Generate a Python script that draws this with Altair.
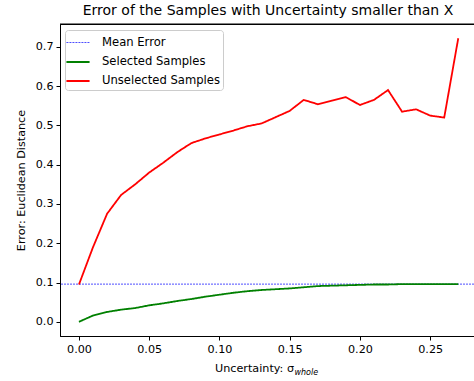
import altair as alt
import pandas as pd

uncertainty = [0.00, 0.01, 0.02, 0.03, 0.04, 0.05, 0.06, 0.07, 0.08, 0.09,
               0.10, 0.11, 0.12, 0.13, 0.14, 0.15, 0.16, 0.17, 0.18, 0.19,
               0.20, 0.21, 0.22, 0.23, 0.24, 0.25, 0.26, 0.27]
selected = [0.000, 0.016, 0.025, 0.031, 0.035, 0.042, 0.047, 0.053, 0.058, 0.064,
            0.069, 0.074, 0.078, 0.081, 0.083, 0.085, 0.088, 0.091, 0.092, 0.093,
            0.094, 0.095, 0.095, 0.096, 0.096, 0.096, 0.096, 0.096]
unselected = [0.095, 0.190, 0.275, 0.323, 0.350, 0.380, 0.405, 0.432, 0.455, 0.467,
              0.477, 0.487, 0.498, 0.505, 0.521, 0.537, 0.565, 0.554, 0.563, 0.572,
              0.552, 0.565, 0.590, 0.535, 0.541, 0.525, 0.520, 0.722]
mean_error = 0.096

series_names = ["Mean Error", "Selected Samples", "Unselected Samples"]
series_colors = ["#0000ff", "#008000", "#ff0000"]

rows = []
for x, s, u in zip(uncertainty, selected, unselected):
    rows.append({"x": x, "y": s, "series": "Selected Samples"})
    rows.append({"x": x, "y": u, "series": "Unselected Samples"})
df = pd.DataFrame(rows)
mean_df = pd.DataFrame({"y": [mean_error], "series": ["Mean Error"]})

W, H = 414, 312
FONT = "DejaVu Sans"
FS = 11.2

color = alt.Color("series:N", scale=alt.Scale(domain=series_names, range=series_colors),
                  legend=alt.Legend(title=None, orient="none", legendX=5, legendY=6,
                                    symbolType="M-1.3,0L1.3,0", symbolSize=317,
                                    labelFontSize=11.6, labelFont=FONT, labelColor="black",
                                    strokeColor="#cccccc", fillColor="white",
                                    padding=3, cornerRadius=3, rowPadding=3,
                                    labelOffset=14))
dash = alt.StrokeDash("series:N", scale=alt.Scale(domain=series_names,
                                                   range=[[2, 1], [1, 0], [1, 0]]),
                      legend=None)
sw = alt.StrokeWidth("series:N", scale=alt.Scale(type="ordinal", domain=series_names,
                                                  range=[0.7, 1.8, 1.8]),
                     legend=None)

xscale = alt.Scale(domain=[-0.0135, 0.2812], nice=False, zero=False)
yscale = alt.Scale(domain=[-0.0361, 0.7582], nice=False, zero=False)

xaxis = alt.Axis(values=[0, 0.05, 0.10, 0.15, 0.20, 0.25], format=".2f", title=None,
                 grid=False, labelFontSize=FS, labelFont=FONT, labelColor="black",
                 tickColor="black", domainColor="black", tickSize=4, labelPadding=3)
yaxis = alt.Axis(values=[0, 0.1, 0.2, 0.3, 0.4, 0.5, 0.6, 0.7], format=".1f",
                 title="Error: Euclidean Distance", grid=False,
                 labelFontSize=FS, labelFont=FONT, labelColor="black",
                 titleFontSize=FS, titleFont=FONT, titleFontWeight="normal",
                 titleColor="black", titlePadding=9,
                 tickColor="black", domainColor="black", tickSize=4, labelPadding=3)

frame_top = alt.Chart(mean_df).mark_rule(color="black", strokeWidth=1).encode(
    x=alt.value(0), x2=alt.value(W), y=alt.value(0))

rule = alt.Chart(mean_df).mark_rule().encode(
    y=alt.Y("y:Q", scale=yscale, axis=yaxis),
    color=color, strokeDash=dash, strokeWidth=sw)

lines = alt.Chart(df).mark_line().encode(
    x=alt.X("x:Q", scale=xscale, axis=xaxis),
    y=alt.Y("y:Q", scale=yscale, axis=yaxis),
    color=color, strokeDash=dash, strokeWidth=sw,
    order="x:Q")

xt1 = alt.Chart(pd.DataFrame({"t": ["Uncertainty: σ"]})).mark_text(
    align="right", baseline="alphabetic", fontSize=FS, font=FONT, color="black"
).encode(text="t:N", x=alt.value(234), y=alt.value(348))
xt2 = alt.Chart(pd.DataFrame({"t": ["whole"]})).mark_text(
    align="left", baseline="alphabetic", fontSize=8, font=FONT, fontStyle="italic",
    color="black"
).encode(text="t:N", x=alt.value(234.5), y=alt.value(351))

chart = alt.layer(frame_top, rule, lines, xt1, xt2).properties(
    width=W, height=H,
    title=alt.TitleParams("Error of the Samples with Uncertainty smaller than X",
                          fontSize=14, font=FONT, fontWeight="normal", color="black",
                          anchor="middle", offset=6, dx=1),
    autosize=alt.AutoSizeParams(type="none"),
    padding={"left": 60, "top": 24, "right": 0, "bottom": 45},
).configure(background="white").configure_view(stroke="black", strokeWidth=1)

chart.save("out.html", embed_options={"renderer": "svg", "actions": False})
